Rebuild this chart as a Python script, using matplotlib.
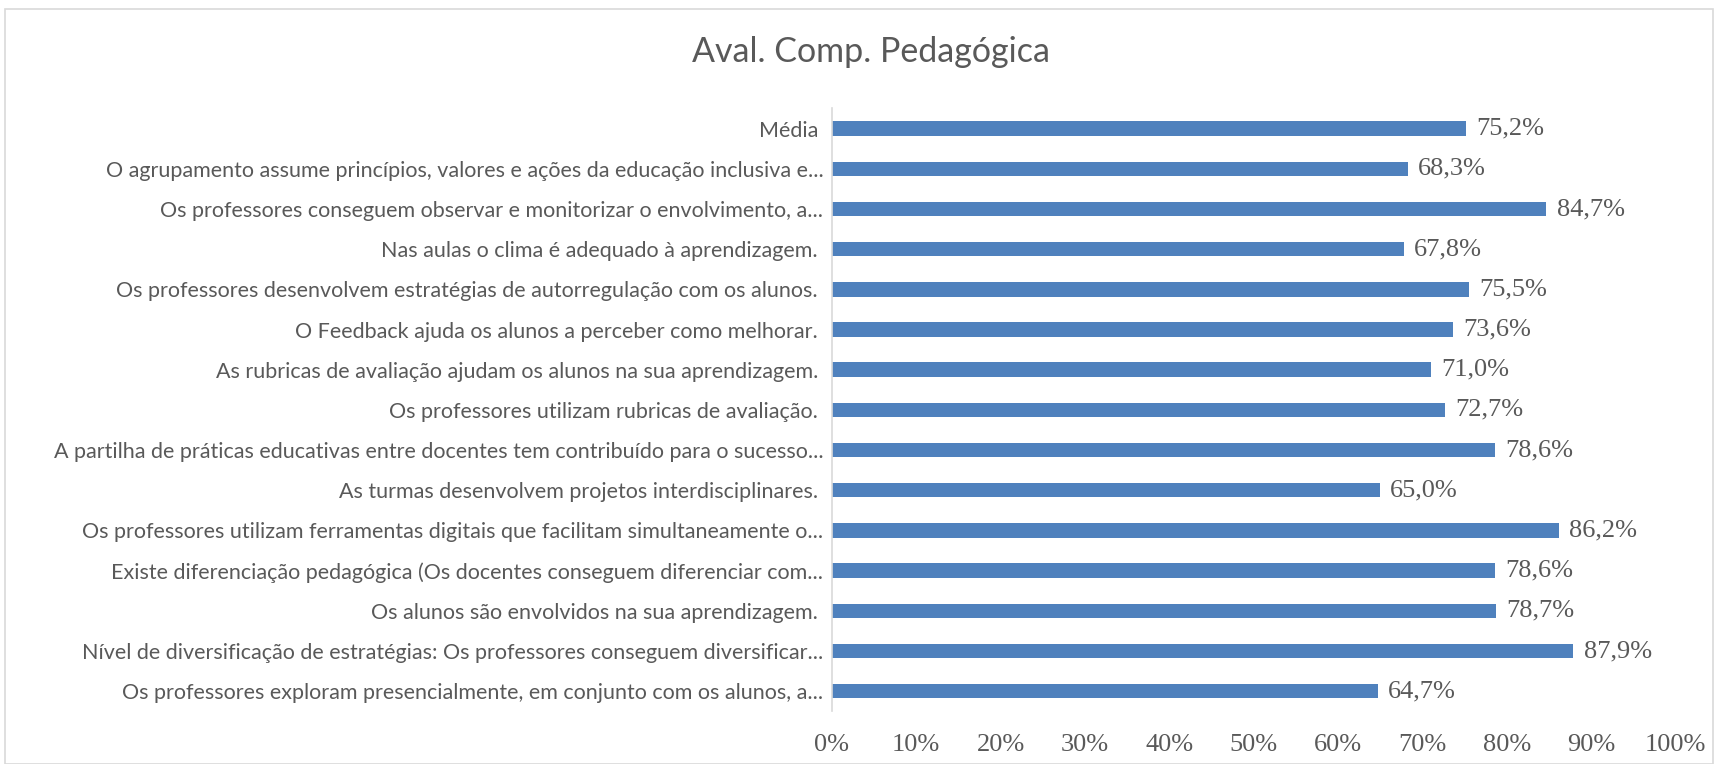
import matplotlib.pyplot as plt
from matplotlib.patches import Rectangle
from matplotlib.ticker import PercentFormatter

# Categories listed bottom to top (as drawn on the y axis)
categories = [
    "Os professores exploram presencialmente, em conjunto com os alunos, a...",
    "Nível de diversificação de estratégias: Os professores conseguem diversificar...",
    "Os alunos são envolvidos na sua aprendizagem. ",
    "Existe diferenciação pedagógica (Os docentes conseguem diferenciar com...",
    "Os professores utilizam ferramentas digitais que facilitam simultaneamente o...",
    "As turmas desenvolvem projetos interdisciplinares. ",
    "A partilha de práticas educativas entre docentes tem contribuído para o sucesso...",
    "Os professores utilizam rubricas de avaliação. ",
    "As rubricas de avaliação ajudam os alunos na sua aprendizagem. ",
    "O Feedback ajuda os alunos a perceber como melhorar. ",
    "Os professores desenvolvem estratégias de autorregulação com os alunos. ",
    "Nas aulas o clima é adequado à aprendizagem. ",
    "Os professores conseguem observar e monitorizar o envolvimento, a...",
    "O agrupamento assume princípios, valores e ações da educação inclusiva e...",
    "Média ",
]
values = [64.7, 87.9, 78.7, 78.6, 86.2, 65.0, 78.6, 72.7, 71.0, 73.6, 75.5, 67.8, 84.7, 68.3, 75.2]

bar_color = "#4F81BD"
text_color = "#595959"

fig = plt.figure(figsize=(17.15, 7.64), dpi=100)
ax = fig.add_axes([0.485, 0.069, 0.492, 0.789])

y = range(len(categories))
ax.barh(y, values, height=0.36, color=bar_color)
ax.set_xlim(0, 100)
ax.set_ylim(-0.5, len(categories) - 0.5)
ax.set_yticks(list(y))
ax.set_yticklabels(categories, fontfamily="Lato", fontsize=15.5, color=text_color)
ax.set_xticks(range(0, 101, 10))
ax.xaxis.set_major_formatter(PercentFormatter(decimals=0))
for lab in ax.get_xticklabels():
    lab.set_fontfamily("Liberation Serif")
    lab.set_fontsize(19)
    lab.set_color(text_color)
ax.tick_params(axis="both", length=0)
ax.tick_params(axis="x", pad=16)
ax.tick_params(axis="y", pad=6)

for s in ["top", "right", "bottom"]:
    ax.spines[s].set_visible(False)
ax.spines["left"].set_color("#D9D9D9")
ax.spines["left"].set_linewidth(1.2)

for yi, v in zip(y, values):
    ax.text(v + 1.2, yi, f"{v:.1f}%".replace(".", ","), va="center", ha="left",
            fontfamily="Liberation Serif", fontsize=19, color=text_color)

fig.text(0.508, 0.932, "Aval. Comp. Pedagógica", ha="center", va="center",
         fontfamily="Lato", fontsize=24.5, color=text_color)

fig.patches.append(Rectangle((0.003, 0.0), 0.996, 0.988, transform=fig.transFigure,
                             fill=False, edgecolor="#D9D9D9", linewidth=1.2))

fig.savefig("out.png", dpi=100)
